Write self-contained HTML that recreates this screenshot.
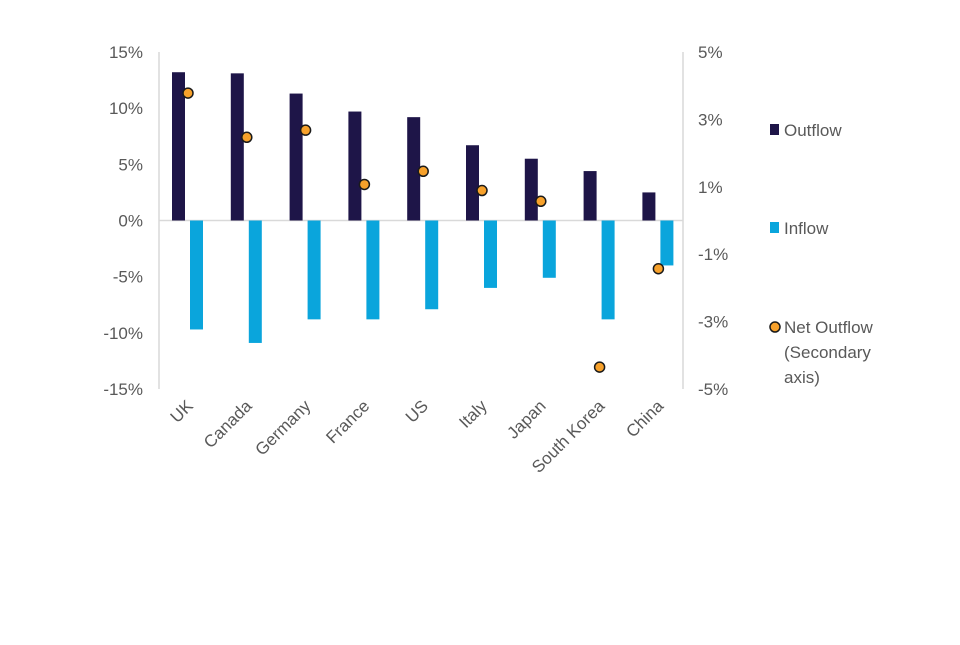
<!DOCTYPE html>
<html><head><meta charset="utf-8"><style>
body{margin:0;background:#fff;}
svg text{font-family:"Liberation Sans",Arial,sans-serif;fill:#595959;}
</style></head><body>
<svg width="960" height="640" viewBox="0 0 960 640">
<g id="axes"></g><g id="marks"></g><g id="legend"></g>
</svg>
<script>
const categories=["UK","Canada","Germany","France","US","Italy","Japan","South Korea","China"];
const outflow=[13.2,13.1,11.3,9.7,9.2,6.7,5.5,4.4,2.5];
const inflow=[-9.7,-10.9,-8.8,-8.8,-7.9,-6.0,-5.1,-8.8,-4.0];
const netOutflow=[3.78,2.47,2.68,1.07,1.46,0.89,0.57,-4.35,-1.43];
const leftTicks=[15,10,5,0,-5,-10,-15];
const rightTicks=[5,3,1,-1,-3,-5];
const NS="http://www.w3.org/2000/svg";
const yTop=52,yBot=389,xL=159,xR=683;
const yL=v=>yTop+(15-v)/30*(yBot-yTop);
const yR=v=>yTop+(5-v)/10*(yBot-yTop);
const xC=i=>172+i*58.8;
function mk(tag,attrs,parent,txt){const e=document.createElementNS(NS,tag);for(const k in attrs)e.setAttribute(k,attrs[k]);if(txt!==undefined)e.textContent=txt;parent.appendChild(e);return e;}
const axes=document.getElementById('axes'),marks=document.getElementById('marks'),legend=document.getElementById('legend');
let e;
e=mk('line',{x1:xL,y1:yTop,x2:xL,y2:yBot,stroke:'#d9d9d9','stroke-width':1.5},axes);

e=mk('line',{x1:xR,y1:yTop,x2:xR,y2:yBot,stroke:'#d9d9d9','stroke-width':1.5},axes);

e=mk('line',{x1:xL,y1:yL(0),x2:xR,y2:yL(0),stroke:'#d9d9d9','stroke-width':1.5},axes);

leftTicks.forEach(t=>{e=mk('text',{x:143,y:yL(t)+6,'text-anchor':'end','font-size':17},axes,t+'%');
});
rightTicks.forEach(t=>{e=mk('text',{x:698,y:yR(t)+6,'font-size':17},axes,t+'%');
});
categories.forEach((c,i)=>{
 const x=xC(i);
 e=mk('rect',{x:x,y:yL(outflow[i]),width:13,height:yL(0)-yL(outflow[i]),fill:'#1e1548'},marks);
 
 e=mk('rect',{x:x+18,y:yL(0),width:13,height:yL(inflow[i])-yL(0),fill:'#0aa5dc'},marks);
 
 const lx=x+22,ly=407;
 e=mk('text',{x:lx,y:ly,'text-anchor':'end','font-size':17,transform:`rotate(-45 ${lx} ${ly})`},axes,c);
 
});
categories.forEach((c,i)=>{
 e=mk('circle',{cx:xC(i)+16,cy:yR(netOutflow[i]),r:5,fill:'#f7a12b',stroke:'#1a1a1a','stroke-width':1.5},marks);
 
});
e=mk('rect',{x:770,y:124,width:9,height:11,fill:'#1e1548'},legend);

e=mk('text',{x:784,y:136,'font-size':17},legend,'Outflow');

e=mk('rect',{x:770,y:222,width:9,height:11,fill:'#0aa5dc'},legend);

e=mk('text',{x:784,y:234,'font-size':17},legend,'Inflow');

e=mk('circle',{cx:775,cy:327,r:5,fill:'#f7a12b',stroke:'#1a1a1a','stroke-width':1.5},legend);

['Net Outflow','(Secondary','axis)'].forEach((t,k)=>{e=mk('text',{x:784,y:333+k*25,'font-size':17},legend,t);
});
</script>
</body></html>
